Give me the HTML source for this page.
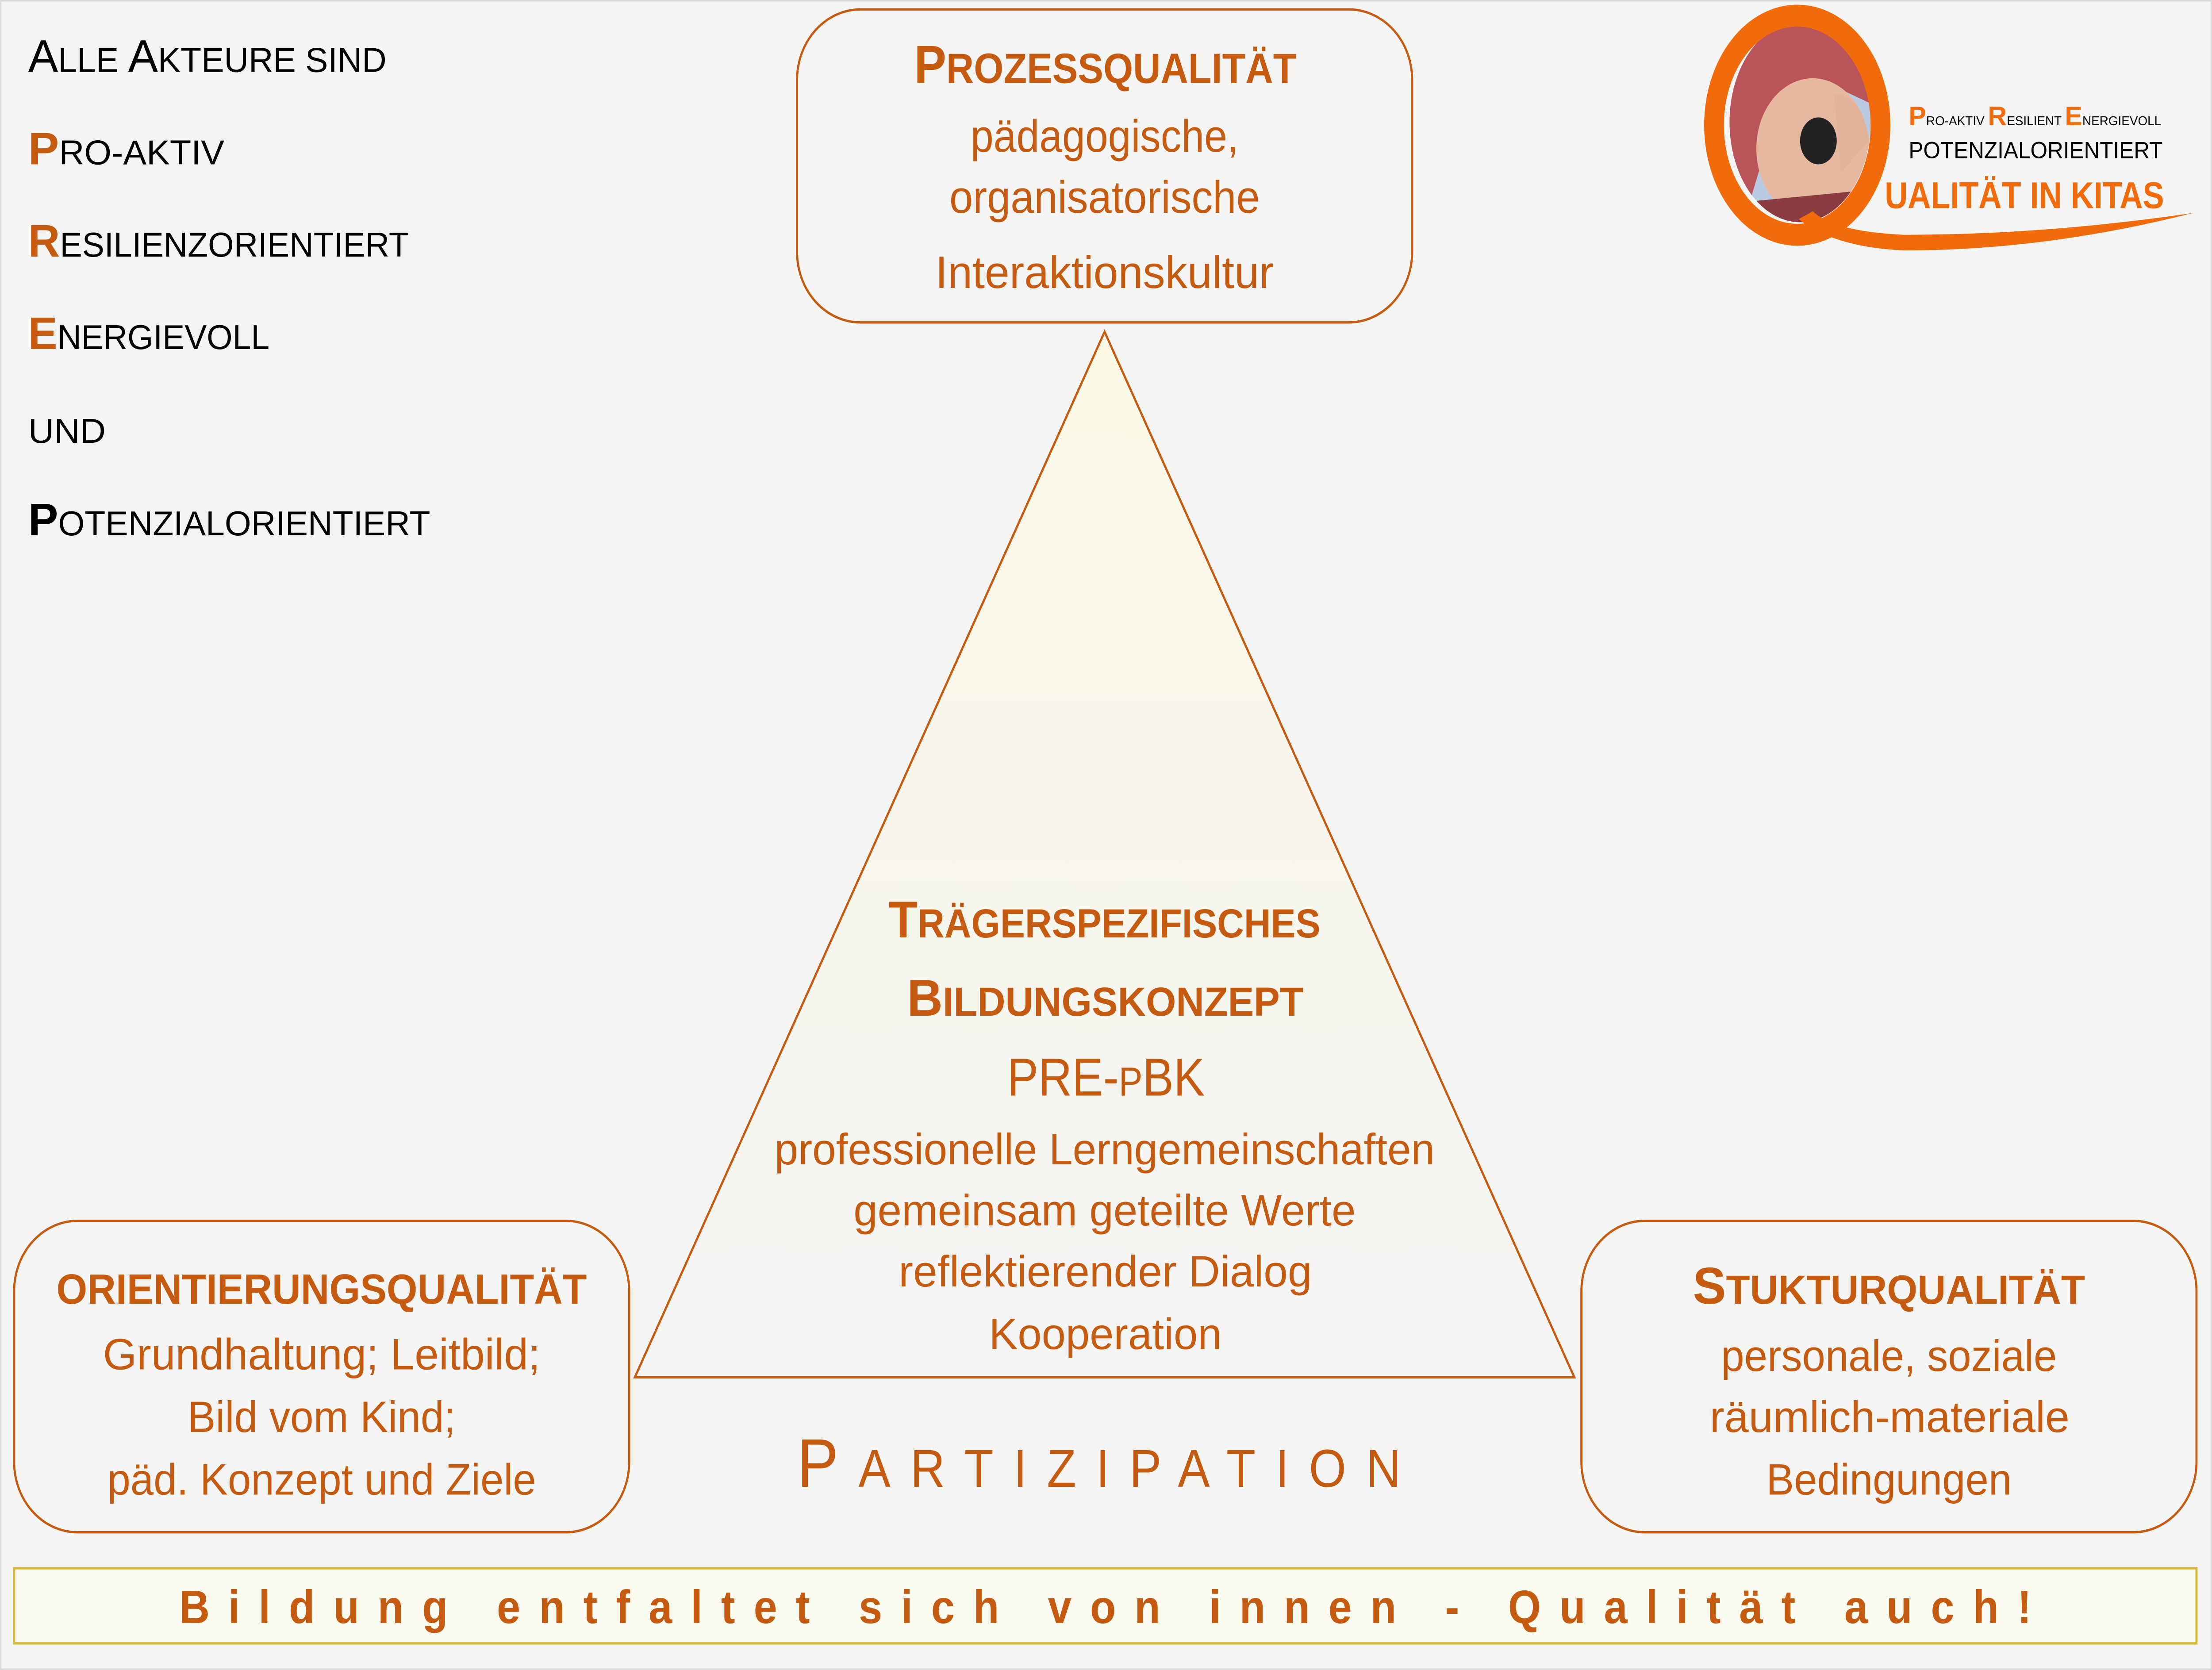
<!DOCTYPE html>
<html><head><meta charset="utf-8"><style>
html,body{margin:0;padding:0;background:#f4f4f3;width:100%;height:100%;overflow:hidden}
svg{display:block;position:fixed;left:0;top:0;width:100vw;height:100vh}
text{font-family:"Liberation Sans",sans-serif}
</style></head><body>
<svg viewBox="0 0 1568 1067" preserveAspectRatio="none" xmlns="http://www.w3.org/2000/svg">
<defs>
<linearGradient id="tg" x1="0" y1="0" x2="0" y2="1">
<stop offset="0" stop-color="#fbf8e6"/><stop offset="1" stop-color="#f4f4f3"/>
</linearGradient>
<clipPath id="ph"><ellipse cx="1276" cy="78" rx="50" ry="64"/></clipPath>
</defs>
<rect x="0" y="0" width="1568" height="1067" fill="#f4f4f3"/>
<rect x="0.5" y="0.5" width="1567" height="1066" fill="none" stroke="#dcdcdc" stroke-width="1"/>

<g font-size="22" fill="#000">
<text x="20" y="46" textLength="254" lengthAdjust="spacingAndGlyphs"><tspan font-size="29">A</tspan>LLE <tspan font-size="29">A</tspan>KTEURE SIND</text>
<text x="20" y="105" textLength="139" lengthAdjust="spacingAndGlyphs"><tspan font-size="29" font-weight="bold" fill="#c55a11">P</tspan>RO-AKTIV</text>
<text x="20" y="164" textLength="270" lengthAdjust="spacingAndGlyphs"><tspan font-size="29" font-weight="bold" fill="#c55a11">R</tspan>ESILIENZORIENTIERT</text>
<text x="20" y="223" textLength="171" lengthAdjust="spacingAndGlyphs"><tspan font-size="29" font-weight="bold" fill="#c55a11">E</tspan>NERGIEVOLL</text>
<text x="20" y="283" textLength="55" lengthAdjust="spacingAndGlyphs">UND</text>
<text x="20" y="342" textLength="285" lengthAdjust="spacingAndGlyphs"><tspan font-size="29" font-weight="bold">P</tspan>OTENZIALORIENTIERT</text>
</g>

<polygon points="783,212 450,880 1116,880" fill="url(#tg)" stroke="#c55a11" stroke-width="1.5"/>

<g fill="#f4f4f3" stroke="#c55a11" stroke-width="1.5">
<rect x="565" y="6" width="436" height="200" rx="45"/>
<rect x="10" y="780" width="436" height="199" rx="45"/>
<rect x="1121" y="780" width="436" height="199" rx="45"/>
</g>

<g fill="#c55a11">
<text x="648" y="53" font-weight="bold" font-size="27" textLength="271" lengthAdjust="spacingAndGlyphs"><tspan font-size="34">P</tspan>ROZESSQUALITÄT</text>
<text x="688" y="97" font-size="29" textLength="190" lengthAdjust="spacingAndGlyphs">pädagogische,</text>
<text x="673" y="136" font-size="29" textLength="220" lengthAdjust="spacingAndGlyphs">organisatorische</text>
<text x="663" y="184" font-size="29" textLength="240" lengthAdjust="spacingAndGlyphs">Interaktionskultur</text>
<text x="630" y="599" font-weight="bold" font-size="26" textLength="306" lengthAdjust="spacingAndGlyphs"><tspan font-size="33">T</tspan>RÄGERSPEZIFISCHES</text>
<text x="643" y="649" font-weight="bold" font-size="26" textLength="281" lengthAdjust="spacingAndGlyphs"><tspan font-size="33">B</tspan>ILDUNGSKONZEPT</text>
<text x="714" y="700" font-size="34" textLength="140" lengthAdjust="spacingAndGlyphs">PRE-<tspan font-size="26">P</tspan>BK</text>
<text x="549" y="744" font-size="28" textLength="468" lengthAdjust="spacingAndGlyphs">professionelle Lerngemeinschaften</text>
<text x="605" y="783" font-size="28" textLength="356" lengthAdjust="spacingAndGlyphs">gemeinsam geteilte Werte</text>
<text x="637" y="822" font-size="28" textLength="293" lengthAdjust="spacingAndGlyphs">reflektierender Dialog</text>
<text x="701" y="862" font-size="28" textLength="165" lengthAdjust="spacingAndGlyphs">Kooperation</text>
<text x="40" y="833" font-weight="bold" font-size="27" textLength="376" lengthAdjust="spacingAndGlyphs">ORIENTIERUNGSQUALITÄT</text>
<text x="73" y="875" font-size="28" textLength="310" lengthAdjust="spacingAndGlyphs">Grundhaltung; Leitbild;</text>
<text x="133" y="915" font-size="28" textLength="190" lengthAdjust="spacingAndGlyphs">Bild vom Kind;</text>
<text x="76" y="955" font-size="28" textLength="304" lengthAdjust="spacingAndGlyphs">päd. Konzept und Ziele</text>
<text x="1200" y="833" font-weight="bold" font-size="26" textLength="278" lengthAdjust="spacingAndGlyphs"><tspan font-size="33">S</tspan>TUKTURQUALITÄT</text>
<text x="1220" y="876" font-size="28" textLength="238" lengthAdjust="spacingAndGlyphs">personale, soziale</text>
<text x="1212" y="915" font-size="28" textLength="255" lengthAdjust="spacingAndGlyphs">räumlich-materiale</text>
<text x="1252" y="955" font-size="28" textLength="174" lengthAdjust="spacingAndGlyphs">Bedingungen</text>
<text x="565" y="950" font-size="34" textLength="428" lengthAdjust="spacing"><tspan font-size="44">P</tspan>ARTIZIPATION</text>
</g>

<rect x="10" y="1002" width="1547" height="48" fill="#fbfbef" stroke="#d6b83a" stroke-width="1.5"/>
<text x="127" y="1037" font-size="30" font-weight="bold" fill="#c55a11" textLength="1313" lengthAdjust="spacing">Bildung entfaltet sich von innen - Qualität auch!</text>

<g clip-path="url(#ph)">
<rect x="1220" y="10" width="120" height="140" fill="#b9cbe0"/>
<path d="M1220,20 L1340,10 L1335,70 L1300,55 L1260,70 L1240,130 L1220,130Z" fill="#b8545a"/>
<ellipse cx="1285" cy="95" rx="40" ry="45" fill="#e7b8a0"/>
<path d="M1226,130 L1340,120 L1340,150 L1226,150Z" fill="#8a3c40"/>
<ellipse cx="1289" cy="90" rx="13" ry="15" fill="#222"/>
<path d="M1300,60 Q1320,60 1325,90 L1305,110 Z" fill="#e3b29a"/>
</g>
<ellipse cx="1274" cy="80" rx="59" ry="70" fill="none" stroke="#f26b0a" stroke-width="14"/>
<path d="M1275,140 Q1300,158 1350,160 Q1450,160 1555,136 Q1450,150 1350,150 Q1300,148 1285,135Z" fill="#f26b0a"/>
<text x="1353" y="80" font-size="8" fill="#000" textLength="179" lengthAdjust="spacingAndGlyphs"><tspan font-size="17" font-weight="bold" fill="#f26b0a">P</tspan>RO-AKTIV     <tspan font-size="17" font-weight="bold" fill="#f26b0a">R</tspan>ESILIENT     <tspan font-size="17" font-weight="bold" fill="#f26b0a">E</tspan>NERGIEVOLL</text>
<text x="1353" y="101" font-size="15" fill="#000" textLength="180" lengthAdjust="spacingAndGlyphs">POTENZIALORIENTIERT</text>
<text x="1336" y="133" font-size="24" font-weight="bold" fill="#f26b0a" textLength="198" lengthAdjust="spacingAndGlyphs">UALITÄT IN KITAS</text>
</svg>
</body></html>
